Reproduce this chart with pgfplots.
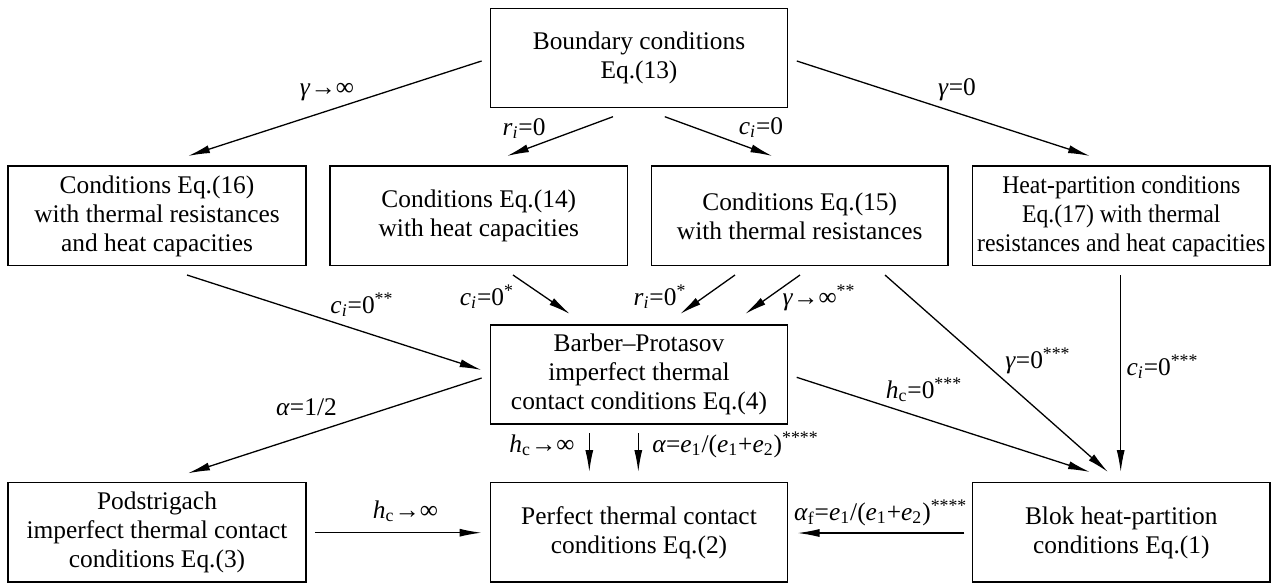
\documentclass[border=0pt]{standalone}
\usepackage{fontspec}
\setmainfont{Liberation Serif}
\usepackage{pgfplots}
\pgfplotsset{compat=1.18}
\usetikzlibrary{arrows.meta}
\newcommand{\vi}[1]{\textit{#1}}
\newcommand{\Sb}[1]{\textsubscript{#1}}
\newcommand{\St}[1]{\textsuperscript{#1}}
\tikzset{
  lab/.style={anchor=base, inner sep=0pt, font=\rmfamily\fontsize{12.7}{14.5}\selectfont},
  bt/.style={align=center, inner sep=0pt, font=\rmfamily\fontsize{12.7}{14.5}\selectfont},
  bx/.style={line width=0.75pt},
  arr/.style={black, line width=0.65pt, -{Latex[length=11pt,width=4pt]}}
}
\newcommand{\arr}[4]{\addplot[arr] coordinates {(#1,#2) (#3,#4)};}
\newcommand{\bx}[4]{\draw[bx] (axis cs:#1,#2) rectangle (axis cs:#3,#4);}
\begin{document}
\begin{tikzpicture}
\begin{axis}[width=635.5pt,height=291.5pt,scale only axis,
  xmin=0,xmax=1271,ymin=0,ymax=583,y dir=reverse,
  axis lines=none,ticks=none,clip=false]
\draw[draw=none] (axis cs:0,0) rectangle (axis cs:1271,583);
% boxes
\bx{490.5}{8.3}{787.4}{107.3}
\bx{8}{166}{306}{265.7}
\bx{330}{166}{627.6}{265.7}
\bx{651.3}{166}{948}{265.7}
\bx{972.6}{166}{1270}{265.7}
\bx{490.5}{325}{787.4}{424}
\bx{8}{482.7}{306}{582}
\bx{490.5}{482.7}{787.4}{582}
\bx{972.6}{482.7}{1270}{582}
% box texts
\node[bt] at (axis cs:639,57.8) {Boundary conditions\\Eq.(13)};
\node[bt] at (axis cs:157,216) {Conditions Eq.(16)\\with thermal resistances\\and heat capacities};
\node[bt] at (axis cs:478.8,216) {Conditions Eq.(14)\\with heat capacities};
\node[bt] at (axis cs:799.7,216) {Conditions Eq.(15)\\with thermal resistances};
\node[bt,xscale=0.935] at (axis cs:1121.3,216) {Heat-partition conditions\\Eq.(17) with thermal\\resistances and heat capacities};
\node[bt] at (axis cs:639,374.5) {Barber–Protasov\\imperfect thermal\\contact conditions Eq.(4)};
\node[bt] at (axis cs:157,532.4) {Podstrigach\\imperfect thermal contact\\conditions Eq.(3)};
\node[bt] at (axis cs:639,532.4) {Perfect thermal contact\\conditions Eq.(2)};
\node[bt] at (axis cs:1121.3,532.4) {Blok heat-partition\\conditions Eq.(1)};
% arrows
\arr{481.6}{61}{188}{156}
\arr{613}{116.7}{507}{156}
\arr{664.8}{116.7}{772.3}{156}
\arr{796.8}{61}{1090}{156}
\arr{187}{275}{481.6}{370}
\arr{513}{275}{570}{314}
\arr{735}{275}{680}{314}
\arr{800}{275}{745}{314}
\arr{885}{275}{1108}{472}
\arr{1120.7}{275}{1120.7}{472}
\arr{481.6}{378}{188}{473.3}
\arr{796.7}{377.3}{1090}{472}
\arr{589.3}{433.3}{589.3}{472}
\arr{638.3}{433.3}{638.3}{472}
\arr{314.8}{532.7}{481.6}{532.7}
\arr{964.4}{533}{797.5}{533}
% labels
\node[lab] at (axis cs:327,95) {\vi{γ}→∞};
\node[lab] at (axis cs:524,135) {\vi{r}\Sb{\vi{i}}=0};
\node[lab] at (axis cs:761,134) {\vi{c}\Sb{\vi{i}}=0};
\node[lab] at (axis cs:957,95) {\vi{γ}=0};
\node[lab] at (axis cs:362,313) {\vi{c}\Sb{\vi{i}}=0\St{**}};
\node[lab] at (axis cs:487,305) {\vi{c}\Sb{\vi{i}}=0\St{*}};
\node[lab] at (axis cs:660,305) {\vi{r}\Sb{\vi{i}}=0\St{*}};
\node[lab] at (axis cs:819,305) {\vi{γ}→∞\St{**}};
\node[lab] at (axis cs:306.5,415) {\vi{α}=1/2};
\node[lab] at (axis cs:542,452) {\vi{h}\Sb{c}→∞};
\node[lab] at (axis cs:735.5,452) {\vi{α}=\vi{e}\Sb{1}/(\vi{e}\Sb{1}+\vi{e}\Sb{2})\St{****}};
\node[lab] at (axis cs:924,398) {\vi{h}\Sb{c}=0\St{***}};
\node[lab] at (axis cs:1038,368) {\vi{γ}=0\St{***}};
\node[lab] at (axis cs:1162.5,375) {\vi{c}\Sb{\vi{i}}=0\St{***}};
\node[lab] at (axis cs:405.5,518) {\vi{h}\Sb{c}→∞};
\node[lab] at (axis cs:880.7,520) {\vi{α}\Sb{f}=\vi{e}\Sb{1}/(\vi{e}\Sb{1}+\vi{e}\Sb{2})\St{****}};
\end{axis}
\end{tikzpicture}
\end{document}
